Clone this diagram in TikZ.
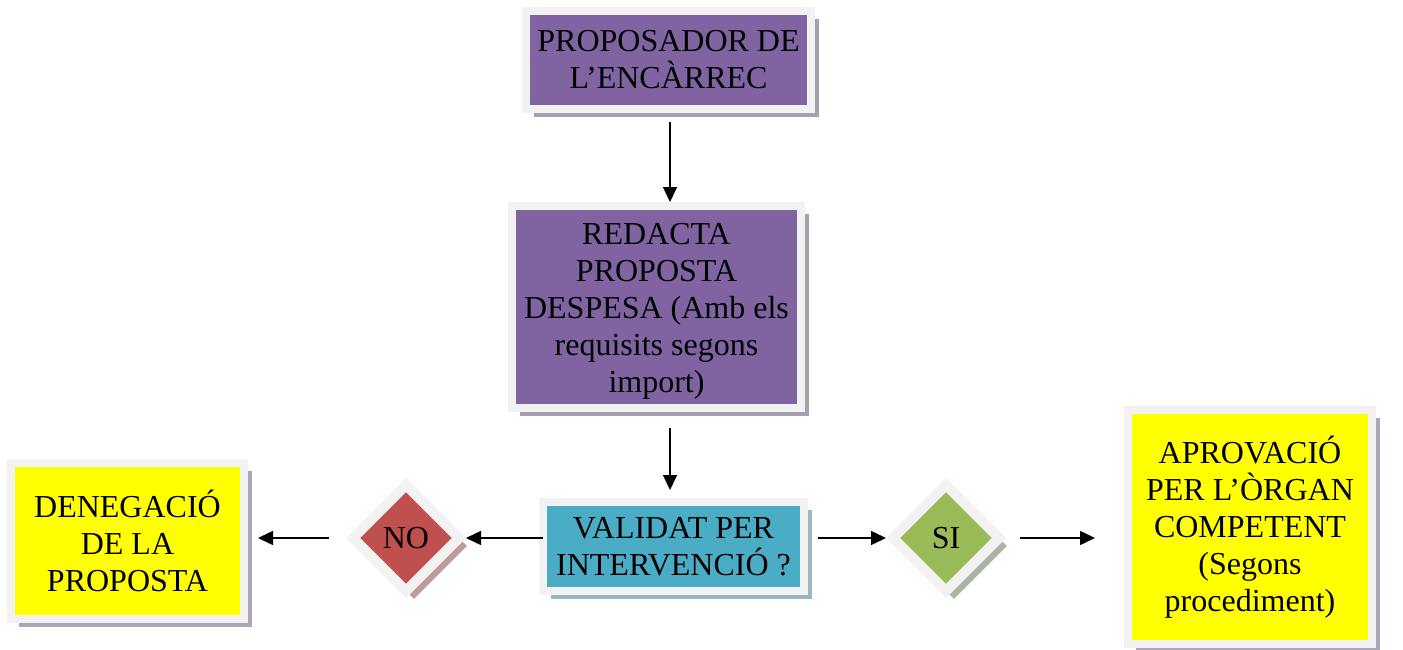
\documentclass[tikz,border=0pt]{standalone}
\usepackage{fontspec}
\setmainfont{Liberation Serif}
\usetikzlibrary{shapes.geometric,shadows,arrows.meta}
\definecolor{purp}{HTML}{8064A2}
\definecolor{teal2}{HTML}{4BACC6}
\definecolor{red2}{HTML}{C0504D}
\definecolor{green2}{HTML}{9BBB59}
\definecolor{yell}{HTML}{FFFF00}
\definecolor{frame}{HTML}{F2F2F2}
\definecolor{shpurp}{HTML}{A69FB0}
\definecolor{shteal}{HTML}{9BB8C1}
\definecolor{shred}{HTML}{BC9C9C}
\definecolor{shgreen}{HTML}{AAB59F}
\definecolor{shyell}{HTML}{ACA6B8}
\tikzset{
  flowbox/.style={rectangle, draw=frame, line width=8pt, inner sep=0pt, outer sep=4pt,
    align=center, font=\fontsize{32}{37}\selectfont},
  decision/.style={diamond, aspect=1, draw=frame, line width=10pt, inner sep=0pt,
    minimum width=110pt, minimum height=110pt, outer sep=5pt, font=\fontsize{32}{37}\selectfont},
  shad/.style={drop shadow={shadow xshift=8pt, shadow yshift=-8pt, opacity=1, fill=#1}},
  conn/.style={line width=1.5pt, -{Triangle[length=15pt,width=14pt]}}
}
\begin{document}
\begin{tikzpicture}[x=1pt,y=-1pt]
\useasboundingbox (0,0) rectangle (1403,650);
\node[flowbox, shad=shpurp, fill=purp, minimum width=285pt, minimum height=98pt] (prop) at (668.5,60) {PROPOSADOR DE\\L’ENCÀRREC};
\node[flowbox, shad=shpurp, fill=purp, minimum width=289pt, minimum height=202pt] (red) at (656.5,307) {\rule{0pt}{30pt}REDACTA\\PROPOSTA\\DESPESA (Amb els\\requisits segons\\import)};
\node[flowbox, shad=shteal, fill=teal2, minimum width=261pt, minimum height=89pt] (val) at (673.5,546.5) {VALIDAT PER\\INTERVENCIÓ ?};
\node[decision, shad=shred, fill=red2] (no) at (406,538) {NO};
\node[decision, shad=shgreen, fill=green2] (si) at (946,538) {SI};
\node[flowbox, shad=shyell, fill=yell, minimum width=233pt, minimum height=156pt] (den) at (127.5,541) {DENEGACIÓ\\DE LA\\PROPOSTA};
\node[flowbox, shad=shyell, fill=yell, minimum width=244pt, minimum height=234pt] (apr) at (1250,527) {APROVACIÓ\\PER L’ÒRGAN\\COMPETENT\\(Segons\\procediment)};
\draw[conn, shorten <=9pt] (prop.south -| 670,0) -- (red.north -| 670,0);
\draw[conn, shorten <=16pt, shorten >=8pt] (red.south -| 670,0) -- (val.north -| 670,0);
\draw[conn, shorten <=-4pt] (val.west |- no.east) -- (no.east);
\draw[conn, shorten <=17pt, shorten >=10pt] (no.west) -- (den.east |- no.west);
\draw[conn, shorten <=10pt] (val.east |- si.west) -- (si.west);
\draw[conn, shorten <=14pt, shorten >=29pt] (si.east) -- (apr.west |- si.east);
\end{tikzpicture}
\end{document}
